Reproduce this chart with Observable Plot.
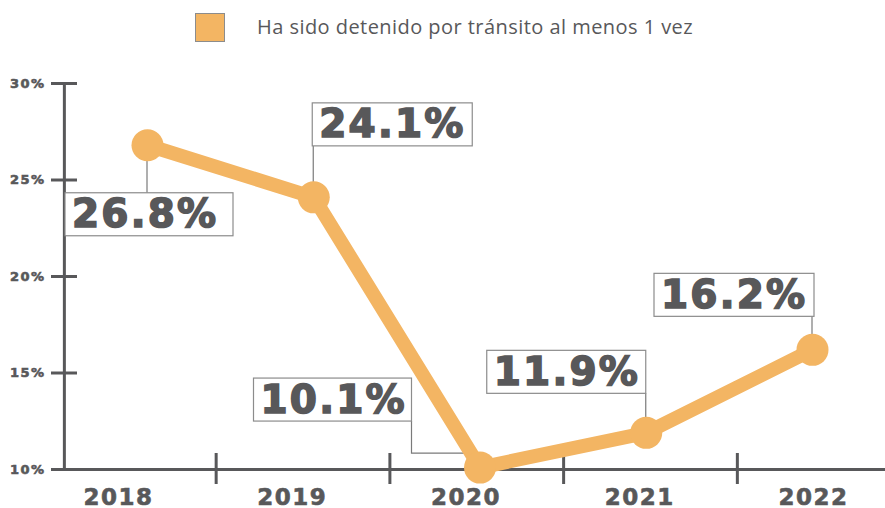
<!DOCTYPE html>
<html lang="es">
<head>
<meta charset="utf-8">
<script src="https://cdn.jsdelivr.net/npm/d3@7"></script>
<script src="https://cdn.jsdelivr.net/npm/@observablehq/plot@0.6"></script>
<style>
  html, body { margin: 0; padding: 0; background: #fff; }
  body { width: 885px; height: 508px; overflow: hidden; }
  #legend { position: relative; width: 885px; height: 52px; font-family: "Open Sans", sans-serif; }
  #legend .swatch { position: absolute; left: 195px; top: 13px; width: 30px; height: 29px; background: #F3B563; border: 1px solid #8c8c8c; box-sizing: border-box; }
  #legend .label { position: absolute; left: 257px; top: 13px; font-size: 20px; letter-spacing: 0.45px; color: #58585a; white-space: nowrap; }
  #chart svg text { letter-spacing: 1.5px; stroke: #58585a; stroke-width: 0.6px; paint-order: stroke; }
</style>
</head>
<body>
<div id="legend"></div>
<div id="chart"></div>
<script>
// ---- data ----
const years = [2018, 2019, 2020, 2021, 2022];
const values = [26.8, 24.1, 10.1, 11.9, 16.2];
const yearLabels = ["2018", "2019", "2020", "2021", "2022"];
const yTicks = [10, 15, 20, 25, 30];
const seriesName = "Ha sido detenido por tránsito al menos 1 vez";

// ---- styling / layout ----
const ink = "#58585a";
const orange = "#F3B563";
const W = 885, H = 456;
// category axis (label band centres and separators), in x-scale units
const catPos = i => 2017.826 + i * 1.045;
const sepPos = i => catPos(i) + 0.587;
// annotation boxes: offset of box (left, top) from the point, box width, leader style
const boxLayout = [
  {ox: -82,  oy: 48,  w: 168, leader: "top"},
  {ox: -1,   oy: -94, w: 160, leader: "bottom"},
  {ox: -226, oy: -89, w: 158, leader: "elbow"},
  {ox: -159, oy: -82, w: 159, leader: "bottom"},
  {ox: -158, oy: -76, w: 160, leader: "bottom"}
];
const boxH = 43;

const data = years.map((year, i) => ({year, value: values[i], label: values[i].toFixed(1) + "%"}));

// legend
const legend = d3.select("#legend");
legend.append("div").attr("class", "swatch");
legend.append("div").attr("class", "label").text(seriesName);

function annotations(index, scales) {
  const g = d3.create("svg:g").attr("aria-label", "value labels");
  data.forEach((d, i) => {
    const L = boxLayout[i];
    const px = scales.x(d.year), py = scales.y(d.value);
    const x0 = px + L.ox, y0 = py + L.oy;
    let path;
    if (L.leader === "top") path = `M${px},${py}V${y0}`;
    else if (L.leader === "bottom") path = `M${px},${y0 + boxH}V${py}`;
    else path = `M${x0 + L.w},${y0 + boxH}V${py - 14}H${px}`;
    g.append("path").attr("d", path).attr("fill", "none")
      .attr("stroke", "#7a7a7a").attr("stroke-width", 1.2);
    g.append("rect").attr("x", x0).attr("y", y0).attr("width", L.w).attr("height", boxH)
      .attr("fill", "white").attr("stroke", "#8c8c8c").attr("stroke-width", 1.2);
    g.append("text").attr("x", x0 + 7).attr("y", y0 + boxH / 2 + 13)
      .attr("text-anchor", "start")
      .attr("fill", ink).attr("font-family", "DejaVu Sans").attr("font-weight", "bold")
      .attr("font-size", 39).attr("style", "letter-spacing:2.2px;stroke:#58585a;stroke-width:1.6px;paint-order:stroke")
      .text(d.label);
  });
  return g.node();
}

const chart = Plot.plot({
  width: W,
  height: H,
  marginTop: 31,
  marginBottom: 39,
  marginLeft: 63,
  marginRight: 0,
  style: {fontFamily: "DejaVu Sans", color: ink, background: "white", overflow: "visible"},
  x: {domain: [2018, 2022], range: [147, 812], axis: null},
  y: {domain: [10, 30], axis: null},
  marks: [
    Plot.ruleY([10], {stroke: ink, strokeWidth: 3}),
    Plot.ruleX([2017.5], {stroke: ink, strokeWidth: 3}),
    Plot.axisY({ticks: yTicks, tickSize: 12, tickPadding: 6, strokeWidth: 3, label: null,
      tickFormat: d => d + "%", fontSize: 13, fontWeight: "bold"}),
    Plot.tickY(yTicks, {y: d => d, stroke: ink, strokeWidth: 3, insetRight: W - 77}),
    Plot.ruleX([0, 1, 2, 3].map(sepPos), {stroke: ink, strokeWidth: 3, insetTop: 370, insetBottom: -15}),
    Plot.text(yearLabels, {x: (d, i) => catPos(i), frameAnchor: "bottom", lineAnchor: "bottom",
      dy: 35, text: d => d, fontSize: 23, fontWeight: "bold", fill: ink}),
    annotations,
    Plot.line(data, {x: "year", y: "value", stroke: orange, strokeWidth: 14,
      strokeLinejoin: "round", strokeLinecap: "round"}),
    Plot.dot(data, {x: "year", y: "value", r: 16, fill: orange})
  ]
});
document.getElementById("chart").appendChild(chart);
</script>
</body>
</html>
